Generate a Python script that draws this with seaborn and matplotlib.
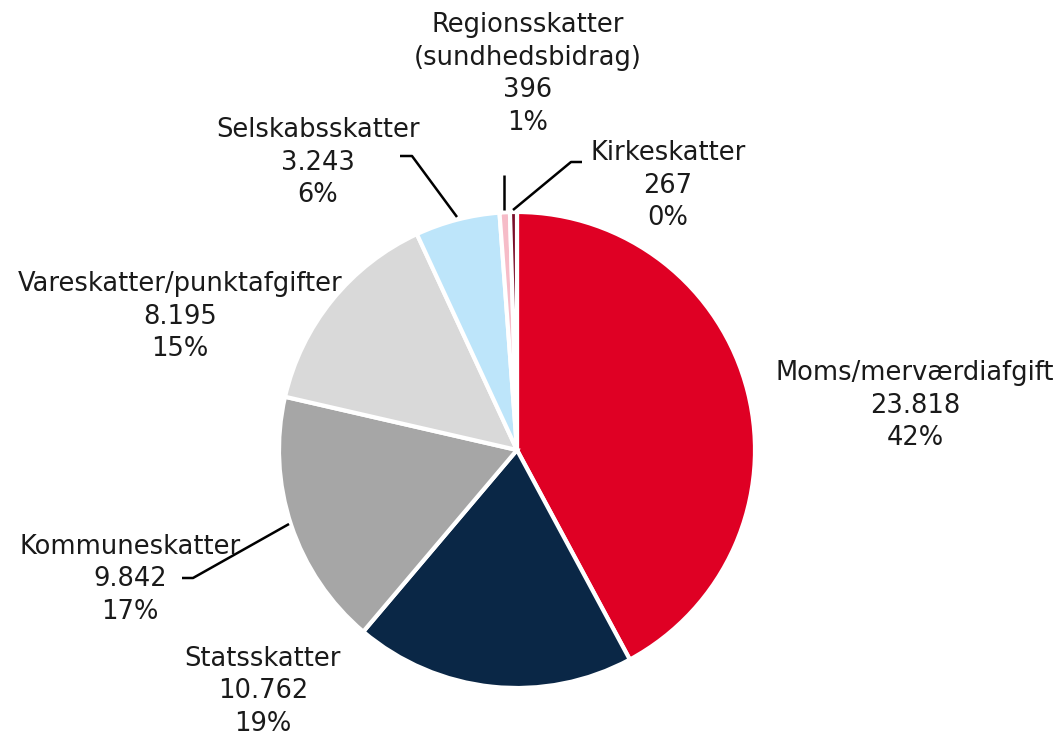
import numpy as np
import seaborn as sns
import matplotlib.pyplot as plt

# data (mio. kr.)
categories = ["Moms/merværdiafgift", "Statsskatter", "Kommuneskatter",
              "Vareskatter/punktafgifter", "Selskabsskatter",
              "Regionsskatter\n(sundhedsbidrag)", "Kirkeskatter"]
values = [23818, 10762, 9842, 8195, 3243, 396, 267]
value_labels = ["23.818", "10.762", "9.842", "8.195", "3.243", "396", "267"]
pct_labels = ["42%", "19%", "17%", "15%", "6%", "1%", "0%"]
colors = ["#DF0024", "#0A2746", "#A6A6A6", "#D9D9D9", "#BDE5FA", "#F6BCC8", "#7A0E2A"]

sns.set_theme(style="white")
plt.rcParams['font.family'] = ['DejaVu Sans']

W, H = 1064, 737
fig = plt.figure(figsize=(W / 100, H / 100), dpi=100)
ax = fig.add_axes([0, 0, 1, 1])

cx, cy, r = 517, H - 450, 238
ax.pie(values, colors=colors, startangle=90, counterclock=False,
       center=(cx, cy), radius=r, frame=True,
       wedgeprops=dict(edgecolor='white', linewidth=3))
ax.set_xlim(0, W)
ax.set_ylim(0, H)
ax.axis('off')

# label block positions (pixel centre of the top line)
label_pos = [(915, 373), (263, 659), (130, 547), (180, 284), (318, 130), (528, 25), (668, 153)]
line_h = 32.5
for cat, vl, pc, (px, py) in zip(categories, value_labels, pct_labels, label_pos):
    lines = cat.split("\n") + [vl, pc]
    for i, t in enumerate(lines):
        ax.text(px, H - (py + i * line_h), t, ha='center', va='center',
                fontsize=18.5, color='#1a1a1a')

# leader lines
leaders = [
    [(182, 578), (193, 578), (289, 524)],
    [(400, 156), (412, 156), (457, 217)],
    [(504, 175), (504, 210)],
    [(582, 162), (571, 162), (513, 210)],
]
for pts in leaders:
    xs = [p[0] for p in pts]
    ys = [H - p[1] for p in pts]
    ax.plot(xs, ys, color='black', linewidth=1.8, solid_capstyle='butt')

plt.savefig("out.png", dpi=100)
